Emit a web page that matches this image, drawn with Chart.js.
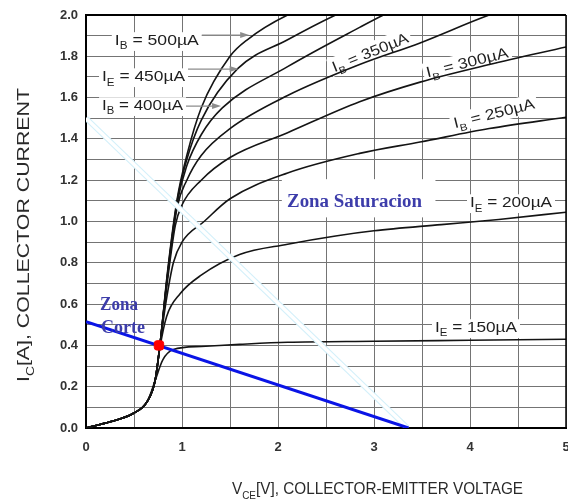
<!DOCTYPE html>
<html><head><meta charset="utf-8">
<script src="https://cdn.jsdelivr.net/npm/chart.js@4.4.1/dist/chart.umd.min.js"></script>
<style>html,body{margin:0;padding:0;background:#fff;}</style>
</head><body>
<canvas id="c" width="568" height="502"></canvas>
<script>
// ---------- data ----------
const xTickLabels = ['0','1','2','3','4','5'];
const yTickLabels = ['0.0','0.2','0.4','0.6','0.8','1.0','1.2','1.4','1.6','1.8','2.0'];

const vce150 = [0,0.25,0.49,0.64,0.72,0.80,0.91,1.2,1.6,2.1,3.0,4.0,5.0];
const ic150  = [0,0.03,0.07,0.13,0.23,0.33,0.38,0.395,0.405,0.415,0.42,0.425,0.43];

const vce200 = [0,0.25,0.49,0.64,0.72,0.77,0.84,0.98,1.2,1.6,2.1,2.6,3.0,3.7,4.3,5.0];
const ic200  = [0,0.03,0.07,0.13,0.23,0.39,0.54,0.65,0.74,0.84,0.89,0.93,0.955,0.985,1.01,1.045];

const vce250 = [0,0.25,0.49,0.64,0.72,0.77,0.83,0.91,1.0,1.23,1.5,2.1,2.85,3.48,4.2,5.0];
const ic250  = [0,0.03,0.07,0.13,0.23,0.40,0.60,0.80,0.90,1.0,1.11,1.235,1.33,1.385,1.45,1.505];

const vce300 = [0,0.25,0.49,0.64,0.72,0.77,0.84,0.93,1.0,1.2,1.5,2.1,2.85,3.48,4.2,5.0];
const ic300  = [0,0.03,0.07,0.13,0.23,0.40,0.68,0.98,1.08,1.20,1.31,1.43,1.58,1.675,1.76,1.845];

const vce350 = [0,0.25,0.49,0.64,0.72,0.77,0.84,0.95,1.05,1.2,1.5,2.1,2.85,3.48,4.2,4.6];
const ic350  = [0,0.03,0.07,0.13,0.23,0.40,0.70,1.07,1.20,1.32,1.45,1.61,1.76,1.865,2.0,2.06];

const vce400 = [0,0.25,0.49,0.64,0.72,0.77,0.85,0.95,1.05,1.2,1.42,2.1,2.85,3.1,3.5];
const ic400  = [0,0.03,0.07,0.13,0.23,0.40,0.74,1.09,1.27,1.42,1.55,1.75,1.94,2.0,2.08];

const vce450 = [0,0.25,0.49,0.64,0.72,0.77,0.85,0.95,1.05,1.2,1.58,2.1,2.6,3.0];
const ic450  = [0,0.03,0.07,0.13,0.23,0.40,0.75,1.10,1.30,1.49,1.74,1.88,2.0,2.08];

const vce500 = [0,0.25,0.49,0.64,0.72,0.77,0.85,0.95,1.05,1.2,1.5,1.68,2.1,2.4];
const ic500  = [0,0.03,0.07,0.13,0.23,0.40,0.76,1.11,1.32,1.55,1.80,1.88,2.0,2.05];

const loadV = [0, 3.36];   const loadI = [0.515, 0];   // blue load line
const satV  = [0, 3.35];   const satI  = [1.5, 0];     // white line
const qV    = [0.76];      const qI    = [0.40];       // operating point

// ---------- helpers ----------
const pts = (xs, ys) => xs.map((v, i) => ({x: v, y: ys[i]}));
const SANS = '"Liberation Sans", Arial, sans-serif';
const SERIF = '"Liberation Serif", "DejaVu Serif", serif';
const TICKFONT = {family: SANS, weight:'bold', size:13};

function richWidth(ctx, parts, size, family, weight) {
  let w = 0;
  parts.forEach(p => {
    ctx.font = `${weight||''} ${p[1] ? Math.round(size*0.65) : size}px ${family}`;
    w += ctx.measureText(p[0]).width;
  });
  return w;
}
// draw text parts [text, isSub] starting at x (baseline y), stretched to width tw
function drawRich(ctx, parts, x, y, size, family, tw, color, weight) {
  const w = richWidth(ctx, parts, size, family, weight);
  const sx = tw ? tw / w : 1;
  ctx.save();
  ctx.translate(x, y);
  ctx.scale(sx, 1);
  ctx.fillStyle = color;
  ctx.textAlign = 'left';
  ctx.textBaseline = 'alphabetic';
  let cx = 0;
  parts.forEach(p => {
    const s = p[1] ? Math.round(size*0.65) : size;
    ctx.font = `${weight||''} ${s}px ${family}`;
    ctx.fillText(p[0], cx, p[1] ? size*0.3 : 0);
    cx += ctx.measureText(p[0]).width;
  });
  ctx.restore();
}

// label definitions (value coordinates for anchor)
const ibLabels = [
  {parts:[['I',0],['B',1],[' = 500µA',0]], x:0.30, y:1.855, w:84, arrow:{y:1.903, tip:1.71}},
  {parts:[['I',0],['E',1],[' = 450µA',0]], x:0.167, y:1.680, w:83, arrow:{y:1.738, tip:1.60}},
  {parts:[['I',0],['B',1],[' = 400µA',0]], x:0.167, y:1.540, w:81, arrow:{y:1.559, tip:1.417}},
  {parts:[['I',0],['B',1],[' = 350µA',0]], cx:2.958, cy:1.821, w:81, rot:-22},
  {parts:[['I',0],['B',1],[' = 300µA',0]], cx:3.969, cy:1.772, w:84, rot:-14},
  {parts:[['I',0],['B',1],[' = 250µA',0]], cx:4.25, cy:1.525, w:83, rot:-14},
  {parts:[['I',0],['E',1],[' = 200µA',0]], x:4.0, y:1.070, w:82},
  {parts:[['I',0],['E',1],[' = 150µA',0]], x:3.635, y:0.465, w:82}
];
const LSIZE = 15;

function drawLabels(chart, bg) {
  const ctx = chart.ctx, xs = chart.scales.x, ys = chart.scales.y;
  ctx.save();
  if (bg) {
    // white box behind "Zona Saturacion"
    const zx0 = xs.getPixelForValue(2.04), zx1 = xs.getPixelForValue(3.64);
    const zy0 = ys.getPixelForValue(1.205), zy1 = ys.getPixelForValue(1.02);
    ctx.fillStyle = '#fff';
    ctx.fillRect(zx0, zy0, zx1 - zx0, zy1 - zy0);
  }
  ibLabels.forEach(L => {
    if (L.rot !== undefined) {
      const px = xs.getPixelForValue(L.cx), py = ys.getPixelForValue(L.cy);
      ctx.save();
      ctx.translate(px, py);
      ctx.rotate(L.rot * Math.PI / 180);
      if (bg) {
        ctx.fillStyle = '#fff';
        ctx.fillRect(-L.w/2 - 3, -LSIZE*0.62, L.w + 6, LSIZE*1.25);
      } else {
        drawRich(ctx, L.parts, -L.w/2, LSIZE*0.36, LSIZE, SANS, L.w, '#1e1e1e');
      }
      ctx.restore();
    } else {
      const px = xs.getPixelForValue(L.x), py = ys.getPixelForValue(L.y);
      if (bg) {
        ctx.fillStyle = '#fff';
        ctx.fillRect(px - 3, py - LSIZE*0.85, L.w + 6, LSIZE*1.25);
      } else {
        drawRich(ctx, L.parts, px, py, LSIZE, SANS, L.w, '#1e1e1e');
        if (L.arrow) {
          const ay = ys.getPixelForValue(L.arrow.y);
          const tx = xs.getPixelForValue(L.arrow.tip);
          ctx.strokeStyle = '#8c8c8c';
          ctx.lineWidth = 1.3;
          ctx.beginPath();
          ctx.moveTo(px + L.w + 3, ay);
          ctx.lineTo(tx - 4, ay);
          ctx.stroke();
          ctx.fillStyle = '#8c8c8c';
          ctx.beginPath();
          ctx.moveTo(tx - 1, ay);
          ctx.lineTo(tx - 10, ay - 3);
          ctx.lineTo(tx - 10, ay + 3);
          ctx.closePath();
          ctx.fill();
        }
      }
    }
  });
  if (!bg) {
    const zc = '#3d3daa';
    drawRich(ctx, [['Zona Saturacion',0]], xs.getPixelForValue(2.094), ys.getPixelForValue(1.07), 18, SERIF, 135, zc, 'bold');
    drawRich(ctx, [['Zona',0]], xs.getPixelForValue(0.146), ys.getPixelForValue(0.571), 18, SERIF, 38, zc, 'bold');
    drawRich(ctx, [['Corte',0]], xs.getPixelForValue(0.156), ys.getPixelForValue(0.46), 18, SERIF, 44, zc, 'bold');
  }
  ctx.restore();
}

const annotPlugin = {
  id: 'annot',
  beforeDatasetsDraw(chart) { drawLabels(chart, true); },
  afterDatasetsDraw(chart) {
    const ctx = chart.ctx, a = chart.chartArea;
    drawLabels(chart, false);
    ctx.save();
    // top and right frame
    ctx.strokeStyle = '#000';
    ctx.lineWidth = 2;
    ctx.beginPath();
    ctx.moveTo(a.left, a.top); ctx.lineTo(a.right, a.top);
    ctx.stroke();
    ctx.lineWidth = 1.5;
    ctx.beginPath();
    ctx.moveTo(a.right, a.top); ctx.lineTo(a.right, a.bottom);
    ctx.stroke();
    // axis titles
    drawRich(ctx, [['V',0],['CE',1],['[V], COLLECTOR-EMITTER VOLTAGE',0]], 232, 494, 17, SANS, 291, '#2a2a2a');
    ctx.translate(29, 382);
    ctx.rotate(-Math.PI/2);
    drawRich(ctx, [['I',0],['C',1],['[A], COLLECTOR CURRENT',0]], 0, 0, 17, SANS, 294, '#2a2a2a');
    ctx.restore();
  }
};

const curveStyle = {borderColor:'#141414', borderWidth:1.6, pointRadius:0, cubicInterpolationMode:'monotone', fill:false, order:10, clip:0};

new Chart(document.getElementById('c'), {
  type: 'line',
  data: {
    datasets: [
      Object.assign({label:'150', data: pts(vce150, ic150)}, curveStyle),
      Object.assign({label:'200', data: pts(vce200, ic200)}, curveStyle),
      Object.assign({label:'250', data: pts(vce250, ic250)}, curveStyle),
      Object.assign({label:'300', data: pts(vce300, ic300)}, curveStyle),
      Object.assign({label:'350', data: pts(vce350, ic350)}, curveStyle),
      Object.assign({label:'400', data: pts(vce400, ic400)}, curveStyle),
      Object.assign({label:'450', data: pts(vce450, ic450)}, curveStyle),
      Object.assign({label:'500', data: pts(vce500, ic500)}, curveStyle),
      {label:'satEdge', data: pts(satV, satI), borderColor:'#d4f0fa', borderWidth:5.5, pointRadius:0, order:4, clip:0},
      {label:'sat', data: pts(satV, satI), borderColor:'#ffffff', borderWidth:3.2, pointRadius:0, order:3, clip:0},
      {label:'load', data: pts(loadV, loadI), borderColor:'#0a14e6', borderWidth:3, pointRadius:0, order:2, clip:0},
      {label:'Q', data: pts(qV, qI), showLine:false, pointRadius:5.5, pointStyle:'rectRounded', pointBackgroundColor:'#ff0000', pointBorderColor:'#ff0000', order:1, clip:false}
    ]
  },
  options: {
    responsive: false,
    animation: false,
    events: [],
    layout: {autoPadding: false, padding: {top: 15, right: 2, left: 0, bottom: 0}},
    plugins: {legend: {display:false}, tooltip: {enabled:false}},
    scales: {
      x: {
        type: 'linear', min: 0, max: 5,
        grid: {color:'#747474', lineWidth:1, drawTicks:false},
        border: {color:'#000', width:2},
        ticks: {
          stepSize: 0.5, padding: 12, color:'#333', maxRotation:0, autoSkip:false,
          font: TICKFONT,
          callback: v => Math.abs(v - Math.round(v)) < 1e-6 ? xTickLabels[Math.round(v)] : ''
        },
        afterFit: s => { s.height = 74; s.paddingLeft = 0; s.paddingRight = 0; }
      },
      y: {
        type: 'linear', min: 0, max: 2,
        grid: {color:'#747474', lineWidth:1, drawTicks:false},
        border: {color:'#000', width:2},
        ticks: {
          stepSize: 0.1, padding: 8, color:'#333', autoSkip:false,
          font: TICKFONT,
          callback: v => { const k = Math.round(v*10); return k % 2 === 0 ? yTickLabels[k/2] : ''; }
        },
        afterFit: s => { s.width = 86; s.paddingTop = 0; s.paddingBottom = 0; }
      }
    }
  },
  plugins: [annotPlugin]
});
</script>
</body></html>
